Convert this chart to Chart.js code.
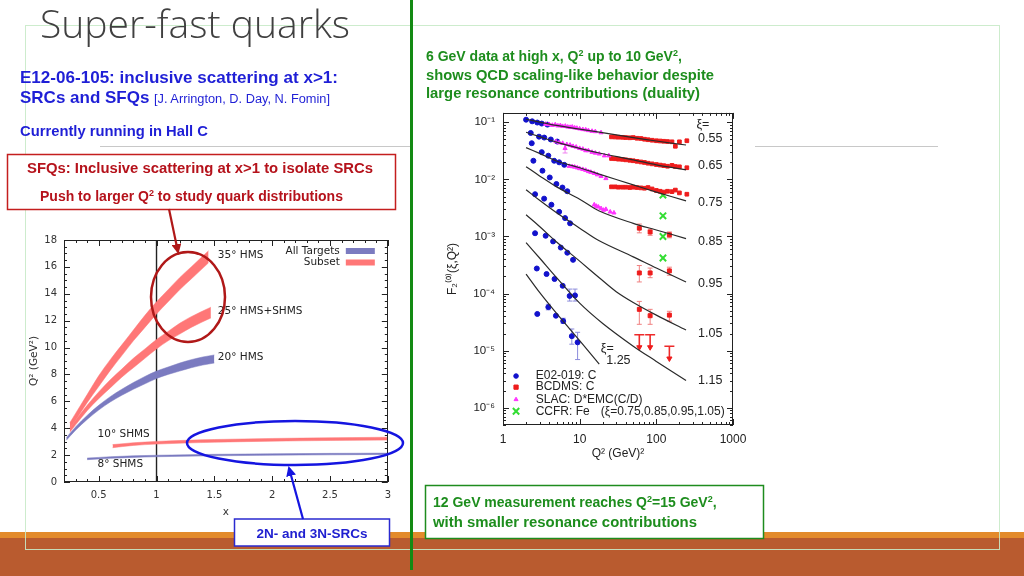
<!DOCTYPE html>
<html>
<head>
<meta charset="utf-8">
<script src="https://cdn.jsdelivr.net/npm/chart.js@4.4.0/dist/chart.umd.min.js"></script>
<style>
  body { margin: 0; width: 1024px; height: 576px; overflow: hidden; background: #fff; position: relative; font-family: "Liberation Sans", Arial, sans-serif; }
  .abs { position: absolute; }
  #frame { left: 25px; top: 25px; width: 975px; height: 525px; border: 1px solid rgba(200, 234, 200, 0.9); box-sizing: border-box; }
  #bar1 { left: 0; top: 532px; width: 1024px; height: 6px; background: #e38b2c; }
  #bar2 { left: 0; top: 538px; width: 1024px; height: 38px; background: #b95b2f; }
  #gline1 { left: 100px; top: 146px; width: 310px; height: 1px; background: #c8c8c8; }
  #gline2 { left: 755px; top: 146px; width: 183px; height: 1px; background: #c8c8c8; }
  #vline { left: 410px; top: 0; width: 3px; height: 570px; background: #138a13; }
  #leftBox { left: 28px; top: 227px; width: 370px; height: 295px; }
  #rightBox { left: 445px; top: 98px; width: 310px; height: 367px; background: #fff; }
  svg { position: absolute; left: 0; top: 0; }
</style>
</head>
<body>
<div class="abs" id="bar1"></div>
<div class="abs" id="bar2"></div>
<div class="abs" id="frame"></div>
<div class="abs" id="gline1"></div>
<div class="abs" id="gline2"></div>
<div class="abs" id="leftBox"><canvas id="kinChart"></canvas></div>
<div class="abs" id="rightBox"><canvas id="f2Chart"></canvas></div>
<div class="abs" id="vline"></div>

<svg width="1024" height="576" viewBox="0 0 1024 576">
  <defs>
    <marker id="headRed" markerWidth="10" markerHeight="10" refX="8" refY="5" orient="auto" markerUnits="userSpaceOnUse">
      <path d="M0,0 L10,5 L0,10 z" fill="#b01818"/>
    </marker>
    <marker id="headBlue" markerWidth="10" markerHeight="10" refX="8" refY="5" orient="auto" markerUnits="userSpaceOnUse">
      <path d="M0,0 L10,5 L0,10 z" fill="#1515e0"/>
    </marker>
  </defs>

  <text x="40" y="38" font-family="Open Sans" font-weight="300" font-size="38" fill="#404040" textLength="310" lengthAdjust="spacingAndGlyphs">Super-fast quarks</text>

  <g font-family="Liberation Sans" font-weight="bold" fill="#1f1fd6">
    <text x="20" y="83" font-size="17" textLength="318" lengthAdjust="spacingAndGlyphs">E12-06-105: inclusive scattering at x&gt;1:</text>
    <text x="20" y="103" font-size="17">SRCs and SFQs</text>
    <text x="20" y="136" font-size="14.8" textLength="188" lengthAdjust="spacingAndGlyphs">Currently running in Hall C</text>
  </g>
  <text x="154" y="103" font-family="Liberation Sans" font-size="12.5" fill="#1f1fd6" textLength="176" lengthAdjust="spacingAndGlyphs">[J. Arrington, D. Day, N. Fomin]</text>

  <rect x="7.5" y="154.5" width="388" height="55" fill="#fff" stroke="#c41e1e" stroke-width="1.5"/>
  <g font-family="Liberation Sans" font-weight="bold" fill="#b5121b" font-size="14">
    <text x="27" y="173" textLength="346" lengthAdjust="spacingAndGlyphs">SFQs: Inclusive scattering at x&gt;1 to isolate SRCs</text>
    <text x="40" y="201">Push to larger Q<tspan dy="-5" font-size="9">2</tspan><tspan dy="5"> to study quark distributions</tspan></text>
  </g>

  <g font-family="Liberation Sans" font-weight="bold" fill="#1d8d1d" font-size="14">
    <text x="426" y="61">6 GeV data at high x, Q<tspan dy="-5" font-size="9">2</tspan><tspan dy="5"> up to 10 GeV</tspan><tspan dy="-5" font-size="9">2</tspan><tspan dy="5">,</tspan></text>
    <text x="426" y="79.5" textLength="288" lengthAdjust="spacingAndGlyphs">shows QCD scaling-like behavior despite</text>
    <text x="426" y="98" textLength="274" lengthAdjust="spacingAndGlyphs">large resonance contributions (duality)</text>
  </g>

  <rect x="425.5" y="485.5" width="338" height="53" fill="#fff" stroke="#1e8c1e" stroke-width="1.5"/>
  <g font-family="Liberation Sans" font-weight="bold" fill="#1d8d1d" font-size="14">
    <text x="433" y="507">12 GeV measurement reaches Q<tspan dy="-5" font-size="9">2</tspan><tspan dy="5">=15 GeV</tspan><tspan dy="-5" font-size="9">2</tspan><tspan dy="5">,</tspan></text>
    <text x="433" y="527" textLength="264" lengthAdjust="spacingAndGlyphs">with smaller resonance contributions</text>
  </g>

  <rect x="234.5" y="519" width="155" height="27" fill="#fff" stroke="#2a2ad0" stroke-width="1.5"/>
  <text x="312" y="538" text-anchor="middle" font-family="Liberation Sans" font-weight="bold" font-size="13.5" fill="#2020d0">2N- and 3N-SRCs</text>

  <line x1="169" y1="209" x2="178" y2="252" stroke="#b01818" stroke-width="2.2" marker-end="url(#headRed)"/>
  <ellipse cx="188" cy="297" rx="37" ry="45" fill="none" stroke="#b01818" stroke-width="2.5"/>
  <line x1="303" y1="519" x2="289" y2="468" stroke="#1515e0" stroke-width="2.2" marker-end="url(#headBlue)"/>
  <ellipse cx="295" cy="443" rx="108" ry="22" fill="none" stroke="#1515e0" stroke-width="2.5"/>
</svg>

<script>
// ---------- left chart: Q^2 coverage vs x ----------
const hms35X  = [0.25, 0.3, 0.4, 0.5, 0.6, 0.7, 0.8, 0.9, 1.0, 1.1, 1.2, 1.3, 1.45];
const hms35Lo = [4.0, 4.6, 5.9, 7.1, 8.3, 9.4, 10.5, 11.5, 12.5, 13.4, 14.3, 15.1, 16.3];
const hms35Hi = [4.4, 5.1, 6.5, 7.9, 9.1, 10.2, 11.3, 12.4, 13.4, 14.3, 15.2, 16.0, 17.2];

const hms25X  = [0.25, 0.3, 0.4, 0.5, 0.6, 0.7, 0.8, 0.9, 1.0, 1.1, 1.2, 1.3, 1.47];
const hms25Lo = [3.7, 4.25, 5.3, 6.2, 7.0, 7.8, 8.5, 9.2, 9.9, 10.5, 11.0, 11.5, 12.2];
const hms25Hi = [4.0, 4.6, 5.7, 6.7, 7.6, 8.4, 9.2, 9.9, 10.6, 11.2, 11.8, 12.3, 13.0];

const hms20X  = [0.22, 0.3, 0.4, 0.5, 0.6, 0.7, 0.8, 0.9, 1.0, 1.1, 1.2, 1.3, 1.4, 1.5];
const hms20Lo = [3.1, 3.85, 4.65, 5.35, 5.95, 6.45, 6.9, 7.3, 7.7, 8.0, 8.25, 8.5, 8.7, 8.85];
const hms20Hi = [3.3, 4.1, 4.95, 5.7, 6.35, 6.9, 7.4, 7.85, 8.25, 8.55, 8.85, 9.1, 9.3, 9.45];

const shms10X  = [0.62, 0.8, 1.0, 1.25, 1.5, 2.0, 2.5, 3.0];
const shms10Lo = [2.55, 2.72, 2.82, 2.9, 2.96, 3.04, 3.09, 3.12];
const shms10Hi = [2.78, 2.92, 3.02, 3.1, 3.16, 3.24, 3.29, 3.33];

const shms8X  = [0.4, 0.6, 0.8, 1.0, 1.5, 2.0, 2.5, 3.0];
const shms8Lo = [1.66, 1.76, 1.83, 1.88, 1.95, 1.99, 2.02, 2.05];
const shms8Hi = [1.78, 1.88, 1.95, 1.99, 2.06, 2.1, 2.13, 2.15];

const cutX = [1, 1];
const cutY = [0, 18];
const xTickVals = [0.5, 1, 1.5, 2, 2.5, 3];

// ---------- right chart: F2 vs Q^2 ----------
const lineQ2 = [2, 3, 5, 10, 18, 50, 100, 244];
const xi055 = [0.113, 0.101, 0.088, 0.076, 0.067, 0.054, 0.047, 0.040];
const xi065 = [0.067, 0.056, 0.045, 0.035, 0.029, 0.022, 0.018, 0.0147];
const xi075 = [0.036, 0.0285, 0.021, 0.016, 0.0124, 0.0080, 0.0060, 0.0042];
const xi085 = [0.0167, 0.0115, 0.0074, 0.0045, 0.0028, 0.0017, 0.0013, 0.00092];
const xi095 = [0.0066, 0.0043, 0.0026, 0.0014, 0.00084, 0.00044, 0.00028, 0.00016];
const xi105Q2 = [2, 3, 5, 10, 18, 30, 50, 100, 244];
const xi105 = [0.0024, 0.0015, 0.0008, 0.00037, 0.00019, 0.000108, 0.00007, 0.000042, 0.000023];
const xi115Q2 = [2, 3, 5, 10, 20, 50, 100, 244];
const xi115 = [0.00078, 0.00042, 0.00019, 0.000068, 0.00003, 0.000012, 0.0000065, 0.000003];
const xi125Q2 = [2, 3, 5, 10, 18];
const xi125 = [0.00022, 0.000105, 0.000045, 0.000015, 0.0000058];

const e02Q2 = [2.0, 2.4, 2.8, 3.2, 3.8,
               2.3, 2.95, 3.45, 4.2, 5.1,
               2.37, 3.2, 3.9, 4.65, 5.4, 6.3,
               2.49, 3.27, 4.07, 4.97, 5.96, 6.9,
               2.62, 3.44, 4.28, 5.4, 6.45, 7.5,
               2.62, 3.6, 4.5, 5.67, 6.9, 8.2,
               2.76, 3.7, 4.7, 6.0, 7.4, 8.7,
               2.8, 3.9, 4.9, 6.1, 7.9, 9.4];
const e02F = [0.111, 0.104, 0.099, 0.095, 0.091,
              0.065, 0.056, 0.054, 0.050, 0.046,
              0.043, 0.030, 0.026, 0.0212, 0.0199, 0.018,
              0.0212, 0.0142, 0.0108, 0.0083, 0.0072, 0.0062,
              0.0055, 0.0046, 0.0036, 0.0027, 0.0021, 0.0017,
              0.00114, 0.00103, 0.00082, 0.00064, 0.00052, 0.00039,
              0.000275, 0.00022, 0.00018, 0.000137, 0.000091, 0.000093,
              0.000044, 0.000058, 0.000041, 0.000033, 0.000018, 0.000014];
const e02Lo = [null, null, null, null, null, null, null, null, null, null,
               null, null, null, null, null, null, null, null, null, null, null, null,
               null, null, null, null, null, null, null, null, null, null, null, null,
               null, null, null, null, 0.000074, 0.000074,
               null, 0.000052, null, 0.00003, 0.000013, 0.000007];
const e02Hi = [null, null, null, null, null, null, null, null, null, null,
               null, null, null, null, null, null, null, null, null, null, null, null,
               null, null, null, null, null, null, null, null, null, null, null, null,
               null, null, null, null, 0.00012, 0.00012,
               null, 0.000065, null, 0.000037, 0.000024, 0.000021];

const slacQ2 = [3.6, 4.0, 4.4, 4.8, 5.2, 5.6, 6.0, 6.5, 7.0, 7.5, 8.0, 8.6, 9.2, 10, 11, 12, 13, 14.5, 16, 19,
                4.9, 5.4, 6.0, 6.45, 6.8, 7.5, 8.2, 9, 10, 11, 12, 13, 14.5, 16, 18, 21, 24,
                7.3, 8, 8.6, 9.3, 10, 11, 12, 13, 14, 15.5, 17, 19, 22,
                15.5, 16.5, 17.5, 19, 20.5, 22, 25, 28];
const slacF = [0.093, 0.092, 0.089, 0.091, 0.087, 0.088, 0.085, 0.086, 0.083, 0.082, 0.083, 0.080, 0.079, 0.077, 0.075, 0.074, 0.072, 0.070, 0.069, 0.066,
               0.046, 0.044, 0.043, 0.035, 0.041, 0.040, 0.038, 0.037, 0.035, 0.034, 0.032, 0.032, 0.030, 0.029, 0.028, 0.026, 0.026,
               0.0170, 0.0168, 0.0165, 0.0160, 0.0155, 0.0150, 0.0145, 0.0138, 0.0134, 0.0128, 0.0121, 0.0113, 0.0104,
               0.0036, 0.0034, 0.0033, 0.0031, 0.0029, 0.0030, 0.0027, 0.0026];

const bcdmsDenseQ2 = [26, 29, 32, 36, 40, 45, 50, 56, 63, 70, 78, 88, 100, 112, 125, 140, 160, 177, 200, 250];
const bcdms055 = [0.0555, 0.0552, 0.0548, 0.0545, 0.054, 0.0535, 0.054, 0.0525, 0.052, 0.0505, 0.0495, 0.0485, 0.0475, 0.047, 0.0465, 0.046, 0.0455, 0.038, 0.0455, 0.0475];
const bcdms065 = [0.0232, 0.0230, 0.0226, 0.0224, 0.0220, 0.0216, 0.0212, 0.0207, 0.0202, 0.0198, 0.0192, 0.0187, 0.0182, 0.0178, 0.0174, 0.0170, 0.0176, 0.0168, 0.0166, 0.0160];
const bcdms075 = [0.0074, 0.0074, 0.0073, 0.0073, 0.0073, 0.0072, 0.0073, 0.0072, 0.0071, 0.0070, 0.0072, 0.0068, 0.0064, 0.0062, 0.0060, 0.0062, 0.0061, 0.0065, 0.0058, 0.0055];
const bcdmsSparseQ2 = [60, 83, 148, 60, 83, 148, 60, 83, 148];
const bcdmsSparseF  = [0.0014, 0.0012, 0.00107, 0.00023, 0.00023, 0.00025, 0.000053, 0.000041, 0.000042];
const bcdmsSparseLo = [0.00116, 0.00105, 0.00095, 0.00016, 0.00019, 0.00021, 0.000029, 0.000029, 0.000033];
const bcdmsSparseHi = [0.00165, 0.00135, 0.0012, 0.00031, 0.00028, 0.00029, 0.000073, 0.000053, 0.000049];
const limitQ2  = [60, 83, 148];
const limitTop = [0.000019, 0.000019, 0.000012];
const limitTip = [0.0000115, 0.0000115, 0.0000073];

const ccfrQ2 = [122, 122, 122, 122];
const ccfrF  = [0.0053, 0.0023, 0.0010, 0.00042];

// ---------- helpers ----------
const xy = (xs, ys) => xs.map((v, i) => ({ x: v, y: ys[i] }));
const RED_BAND = '#ff7777';
const BLUE_BAND = '#7b7bc0';
const tickFont = { family: 'DejaVu Sans', size: 10 };

function band(xs, lo, hi, color) {
  return [
    { data: xy(xs, lo), borderColor: color, borderWidth: 0.5, pointRadius: 0, fill: false, cubicInterpolationMode: 'monotone' },
    { data: xy(xs, hi), borderColor: color, borderWidth: 0.5, pointRadius: 0, backgroundColor: color, fill: '-1', cubicInterpolationMode: 'monotone' }
  ];
}

function boxTicks(xt, yt) {
  return {
    id: 'boxTicks',
    afterDatasetsDraw(chart) {
      const { ctx, chartArea: a } = chart;
      const x = chart.scales.x, y = chart.scales.y;
      ctx.save();
      ctx.strokeStyle = '#222';
      ctx.lineWidth = 1;
      ctx.beginPath();
      xt.forEach(([v, len]) => {
        const p = Math.round(x.getPixelForValue(v)) + 0.5;
        ctx.moveTo(p, a.bottom); ctx.lineTo(p, a.bottom - len);
        ctx.moveTo(p, a.top); ctx.lineTo(p, a.top + len);
      });
      yt.forEach(([v, len]) => {
        const p = Math.round(y.getPixelForValue(v)) + 0.5;
        ctx.moveTo(a.left, p); ctx.lineTo(a.left + len, p);
        ctx.moveTo(a.right, p); ctx.lineTo(a.right - len, p);
      });
      ctx.stroke();
      ctx.strokeRect(Math.round(a.left) + 0.5, Math.round(a.top) + 0.5, Math.round(a.width) - 1, Math.round(a.height) - 1);
      ctx.restore();
    }
  };
}

// tick mark lists (axis decoration)
const leftXT = [];
for (let i = 2; i <= 30; i++) leftXT.push([i / 10, i % 5 === 0 ? 6 : 3]);
const leftYT = [];
for (let i = 0; i <= 36; i++) leftYT.push([i / 2, i % 4 === 0 ? 6 : 3]);
const rightXT = [];
for (let e = 0; e < 3; e++) for (let m = 1; m <= 9; m++) rightXT.push([m * Math.pow(10, e), m === 1 ? 6 : 3]);
rightXT.push([1000, 6]);
const rightYT = [];
for (let e = -7; e < 0; e++) for (let m = 1; m <= 9; m++) {
  const v = m * Math.pow(10, e);
  if (v >= 5e-7 && v <= 0.146) rightYT.push([v, m === 1 ? 6 : 3]);
}

const leftLabels = {
  id: 'leftLabels',
  afterDatasetsDraw(chart) {
    const { ctx, chartArea: a } = chart;
    const x = chart.scales.x, y = chart.scales.y;
    ctx.save();
    ctx.font = '10.5px "DejaVu Sans"';
    ctx.fillStyle = '#222';
    ctx.textBaseline = 'middle';
    [['35° HMS', 1.53, 16.85], ['25° HMS+SHMS', 1.53, 12.7], ['20° HMS', 1.53, 9.25],
     ['10° SHMS', 0.49, 3.55], ['8° SHMS', 0.49, 1.3]].forEach(([t, vx, vy]) => {
      ctx.fillText(t, x.getPixelForValue(vx), y.getPixelForValue(vy));
    });
    ctx.textAlign = 'right';
    [['All Targets', BLUE_BAND], ['Subset', RED_BAND]].forEach(([t, c], i) => {
      const yy = a.top + 11 + i * 11.5;
      ctx.fillStyle = '#222';
      ctx.fillText(t, a.right - 48, yy);
      ctx.fillStyle = c;
      ctx.fillRect(a.right - 42, yy - 3, 29, 6);
    });
    ctx.restore();
  }
};

new Chart(document.getElementById('kinChart'), {
  type: 'line',
  data: {
    datasets: [
      ...band(hms35X, hms35Lo, hms35Hi, RED_BAND),
      ...band(hms25X, hms25Lo, hms25Hi, RED_BAND),
      ...band(hms20X, hms20Lo, hms20Hi, BLUE_BAND),
      ...band(shms10X, shms10Lo, shms10Hi, RED_BAND),
      ...band(shms8X, shms8Lo, shms8Hi, BLUE_BAND),
      { data: xy(cutX, cutY), borderColor: '#222', borderWidth: 1.4, pointRadius: 0, fill: false }
    ]
  },
  options: {
    responsive: true,
    maintainAspectRatio: false,
    animation: false,
    layout: { padding: { top: 2, right: 10, left: 0, bottom: 0 } },
    plugins: { legend: { display: false }, tooltip: { enabled: false } },
    scales: {
      x: {
        type: 'linear', min: 0.2, max: 3,
        afterBuildTicks: s => { s.ticks = xTickVals.map(v => ({ value: v })); },
        afterFit: s => { s.height = 40; },
        grid: { display: false, drawTicks: false },
        border: { display: false },
        ticks: { font: tickFont, color: '#333', padding: 7, maxRotation: 0, callback: v => String(v) },
        title: { display: true, text: 'x', font: { family: 'DejaVu Sans', size: 10.5 }, color: '#333', padding: { top: 0, bottom: 3 } }
      },
      y: {
        type: 'linear', min: 0, max: 18,
        afterFit: s => { s.width = 36; },
        grid: { display: false, drawTicks: false },
        border: { display: false },
        ticks: { stepSize: 2, font: tickFont, color: '#333', padding: 7 },
        title: { display: true, text: 'Q² (GeV²)', font: { family: 'DejaVu Sans', size: 10.5 }, color: '#333', padding: { top: 0, bottom: 0 } }
      }
    }
  },
  plugins: [boxTicks(leftXT, leftYT), leftLabels]
});

// ---------- right chart ----------
const errBars = {
  id: 'errBars',
  beforeDatasetsDraw(chart) {
    const { ctx } = chart;
    const y = chart.scales.y;
    chart.data.datasets.forEach((ds, i) => {
      if (!ds.errLo) return;
      const meta = chart.getDatasetMeta(i);
      ctx.save();
      ctx.strokeStyle = ds.errColor;
      ctx.lineWidth = ds.errWidth || 1;
      const cw = ds.capW || 2.5;
      meta.data.forEach((pt, j) => {
        const lo = ds.errLo[j], hi = ds.errHi[j];
        if (lo == null) return;
        const y1 = y.getPixelForValue(lo), y2 = y.getPixelForValue(hi), px = pt.x;
        ctx.beginPath();
        ctx.moveTo(px, y1); ctx.lineTo(px, y2);
        if (!ds.topCapOnly) { ctx.moveTo(px - cw, y1); ctx.lineTo(px + cw, y1); }
        ctx.moveTo(px - cw, y2); ctx.lineTo(px + cw, y2);
        ctx.stroke();
      });
      ctx.restore();
    });
  }
};

const rightLabels = {
  id: 'rightLabels',
  afterDatasetsDraw(chart) {
    const { ctx } = chart;
    const x = chart.scales.x, y = chart.scales.y;
    const px = v => x.getPixelForValue(v), py = v => y.getPixelForValue(v);
    ctx.save();
    ctx.fillStyle = '#222';
    ctx.textBaseline = 'middle';
    ctx.font = '12.5px "Liberation Sans", "DejaVu Sans"';
    [['ξ=', 334, 0.093], ['0.55', 350, 0.0509], ['0.65', 350, 0.0178], ['0.75', 350, 0.0040],
     ['0.85', 350, 0.00083], ['0.95', 350, 0.00015], ['1.05', 350, 0.00002], ['1.15', 350, 0.000003],
     ['ξ=', 18.9, 0.000011], ['1.25', 22.2, 0.0000068]].forEach(([t, vx, vy]) => ctx.fillText(t, px(vx), py(vy)));

    ctx.font = '12px "Liberation Sans", "DejaVu Sans"';
    const rows = [
      ['E02-019: C', 0.0000036, { pointStyle: 'circle', radius: 2.3, color: '#1111cc' }],
      ['BCDMS: C', 0.0000023, { pointStyle: 'rect', radius: 3, color: '#ee1c1c' }],
      ['SLAC: D*EMC(C/D)', 0.0000014, { pointStyle: 'triangle', radius: 2.3, color: '#ff33ff' }],
      ['CCFR: Fe', 0.00000087, { pointStyle: 'crossRot', radius: 4.5, color: '#33dd33' }]
    ];
    rows.forEach(([t, vy, st]) => {
      ctx.fillStyle = '#222';
      ctx.fillText(t, px(2.67), py(vy));
      ctx.fillStyle = st.color;
      ctx.strokeStyle = st.color;
      ctx.lineWidth = st.pointStyle === 'crossRot' ? 2 : 1;
      Chart.helpers.drawPoint(ctx, { pointStyle: st.pointStyle, radius: st.radius, rotation: 0, borderWidth: ctx.lineWidth }, px(1.48), py(vy));
    });
    ctx.fillStyle = '#222';
    ctx.fillText('(ξ=0.75,0.85,0.95,1.05)', px(18.9), py(0.00000087));
    ctx.restore();
  }
};

const supMap = { '-': '⁻', '0': '⁰', '1': '¹', '2': '²', '3': '³', '4': '⁴', '5': '⁵', '6': '⁶', '7': '⁷' };
const isDecade = v => Math.abs(Math.log10(v) - Math.round(Math.log10(v))) < 1e-6;
const theory = (xs, ys) => ({ type: 'line', data: xy(xs, ys), showLine: true, borderColor: '#2a2a2a', borderWidth: 1.2, pointRadius: 0, fill: false, tension: 0.35 });

new Chart(document.getElementById('f2Chart'), {
  type: 'scatter',
  data: {
    datasets: [
      theory(lineQ2, xi055), theory(lineQ2, xi065), theory(lineQ2, xi075), theory(lineQ2, xi085),
      theory(lineQ2, xi095), theory(xi105Q2, xi105), theory(xi115Q2, xi115), theory(xi125Q2, xi125),
      { data: xy(slacQ2, slacF), pointStyle: 'triangle', pointRadius: 2.4, backgroundColor: '#ff33ff', borderColor: '#ff33ff', borderWidth: 1,
        errLo: slacQ2.map((q, i) => i === 23 ? 0.029 : null), errHi: slacQ2.map((q, i) => i === 23 ? 0.041 : null), errColor: '#f080f0' },
      { data: xy(bcdmsDenseQ2, bcdms055).concat(xy(bcdmsDenseQ2, bcdms065), xy(bcdmsDenseQ2, bcdms075)),
        pointStyle: 'rect', pointRadius: 2.6, backgroundColor: '#ee1c1c', borderColor: '#ee1c1c', borderWidth: 1 },
      { data: xy(bcdmsSparseQ2, bcdmsSparseF), pointStyle: 'rect', pointRadius: 2.8, backgroundColor: '#ee1c1c', borderColor: '#ee1c1c', borderWidth: 1,
        errLo: bcdmsSparseLo, errHi: bcdmsSparseHi, errColor: '#f08080' },
      { data: xy(limitQ2, limitTip), pointStyle: 'triangle', rotation: 180, pointRadius: 3, backgroundColor: '#ee1c1c', borderColor: '#ee1c1c', borderWidth: 1,
        errLo: limitTip, errHi: limitTop, errColor: '#ee2a2a', errWidth: 1.6, capW: 5, topCapOnly: true },
      { data: xy(e02Q2, e02F), pointStyle: 'circle', pointRadius: 2.5, backgroundColor: '#1111cc', borderColor: '#1111cc', borderWidth: 1,
        errLo: e02Lo, errHi: e02Hi, errColor: '#8c8cdc' },
      { data: xy(ccfrQ2, ccfrF), pointStyle: 'crossRot', pointRadius: 4.5, borderColor: '#33dd33', borderWidth: 2 }
    ]
  },
  options: {
    responsive: true,
    maintainAspectRatio: false,
    animation: false,
    layout: { padding: { top: 2, right: 22, left: 0, bottom: 0 } },
    plugins: { legend: { display: false }, tooltip: { enabled: false } },
    scales: {
      x: {
        type: 'logarithmic', min: 1, max: 1000,
        afterFit: s => { s.height = 40; },
        grid: { display: false, drawTicks: false },
        border: { display: false },
        ticks: { autoSkip: false, maxRotation: 0, font: { family: 'Liberation Sans', size: 12 }, color: '#222', padding: 7,
                 callback: v => isDecade(v) ? String(Math.round(v)) : '' },
        title: { display: true, text: 'Q² (GeV)²', font: { family: 'Liberation Sans', size: 12 }, color: '#222', padding: { top: 0, bottom: 4 } }
      },
      y: {
        type: 'logarithmic', min: 5e-7, max: 0.146,
        afterFit: s => { s.width = 58; },
        grid: { display: false, drawTicks: false },
        border: { display: false },
        ticks: { autoSkip: false, font: { family: 'Liberation Sans', size: 11.5 }, color: '#222', padding: 8,
                 callback: v => isDecade(v) ? '10' + String(Math.round(Math.log10(v))).split('').map(c => supMap[c]).join('') : '' },
        title: { display: true, text: 'F₂⁽⁰⁾(ξ,Q²)', font: { family: 'Liberation Sans', size: 12 }, color: '#222', padding: { top: 0, bottom: 2 } }
      }
    }
  },
  plugins: [errBars, boxTicks(rightXT, rightYT), rightLabels]
});
</script>
</body>
</html>
